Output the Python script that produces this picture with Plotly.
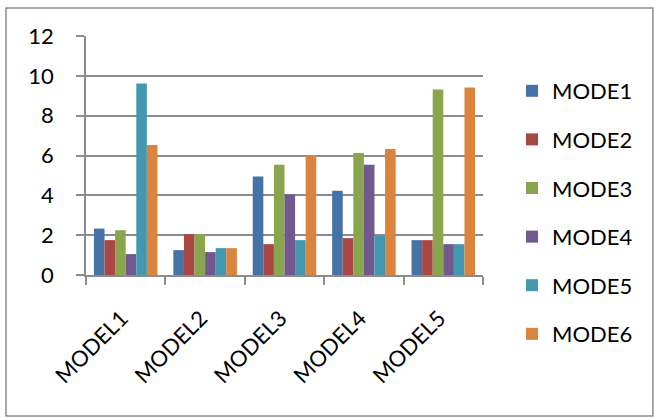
import plotly.graph_objects as go

categories = ["MODEL1", "MODEL2", "MODEL3", "MODEL4", "MODEL5"]
series_names = ["MODE1", "MODE2", "MODE3", "MODE4", "MODE5", "MODE6"]
mode1 = [2.33, 1.25, 4.95, 4.23, 1.75]
mode2 = [1.75, 2.05, 1.55, 1.85, 1.75]
mode3 = [2.25, 2.05, 5.53, 6.13, 9.32]
mode4 = [1.05, 1.15, 4.05, 5.53, 1.55]
mode5 = [9.62, 1.35, 1.75, 1.98, 1.55]
mode6 = [6.53, 1.35, 6.03, 6.33, 9.42]
series_values = [mode1, mode2, mode3, mode4, mode5, mode6]
colors = ["#4572A7", "#AA4643", "#89A54E", "#71588F", "#4198AF", "#DB843D"]
y_ticks = [0, 2, 4, 6, 8, 10, 12]

FONT = "Lato"
GRID = "#8C8C8C"

fig = go.Figure()
for name, vals, col in zip(series_names, series_values, colors):
    fig.add_trace(go.Bar(
        x=categories, y=vals, name=name, legendgroup=name,
        marker=dict(color=col, line=dict(width=0)),
    ))

fig.update_layout(
    width=654, height=418,
    margin=dict(l=86, r=171, t=36, b=143, autoexpand=False),
    paper_bgcolor="white", plot_bgcolor="white",
    barmode="group", bargap=0.2, bargroupgap=0,
    font=dict(family=FONT, size=22, color="black"),
    legend=dict(
        xref="container", yref="container",
        x=512 / 654, xanchor="left", y=1 - 70 / 418, yanchor="top",
        font=dict(family=FONT, size=22, color="black"),
        tracegroupgap=17, bgcolor="rgba(0,0,0,0)", maxheight=400,
    ),
    xaxis=dict(
        type="category", tickson="boundaries", ticks="outside", ticklen=8,
        tickcolor=GRID, tickwidth=1.5, showgrid=False,
        showline=True, linecolor=GRID, linewidth=1.5,
        tickangle=-45, ticklabelstandoff=20, ticklabelshift=-4, automargin=False,
        tickfont=dict(family=FONT, size=22, color="black"),
    ),
    yaxis=dict(
        range=[0, 12], tickvals=y_ticks, ticks="outside", ticklen=8,
        tickcolor=GRID, tickwidth=1.5,
        showgrid=True, gridcolor=GRID, gridwidth=1.5,
        showline=True, linecolor=GRID, linewidth=1.5,
        zeroline=False, automargin=False, ticklabelstandoff=18,
        tickfont=dict(family=FONT, size=22, color="black"),
    ),
)

fig.add_shape(type="rect", xref="paper", yref="paper",
              x0=-0.2015, x1=1.428, y0=-0.59, y1=1.117,
              line=dict(color="#8C8C8C", width=1.5), fillcolor="rgba(0,0,0,0)",
              layer="below")

fig.write_html("out.html", config={"displayModeBar": False},
               post_script="document.body.style.margin='0';document.body.style.overflow='hidden';")
